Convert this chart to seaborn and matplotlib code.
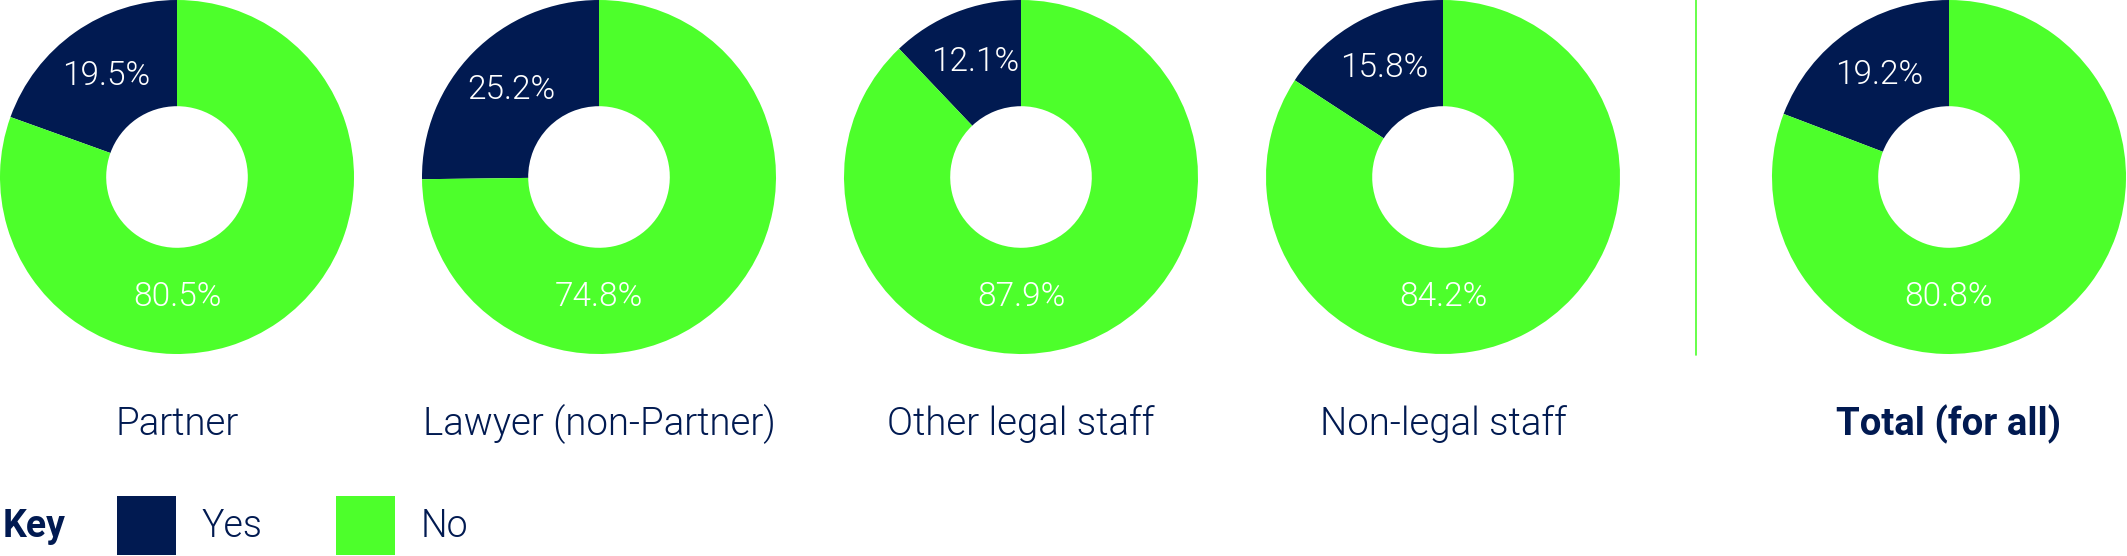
import numpy as np
import pandas as pd
import seaborn as sns
import matplotlib.pyplot as plt

# share of staff answering yes / no, per role
groups = ["Partner", "Lawyer (non-Partner)", "Other legal staff", "Non-legal staff", "Total (for all)"]
yes_pct = [19.5, 25.2, 12.1, 15.8, 19.2]
no_pct = [80.5, 74.8, 87.9, 84.2, 80.8]
answers = ["Yes", "No"]

NAVY = "#011a51"
GREEN = "#4dff2b"
LIGHT = 300  # Roboto Light

sns.set_theme(style="white")
plt.rcParams['font.family'] = ['Roboto', 'DejaVu Sans']

W, H = 2127, 556
fig = plt.figure(figsize=(W / 100, H / 100), dpi=100)

df = pd.DataFrame({"group": groups, "Yes": yes_pct, "No": no_pct})

r = 177
centers = [177 + i * 422 for i in range(4)] + [1949]
cy = 177

first_wedges = None
for i, row in df.iterrows():
    cx = centers[i]
    ax = fig.add_axes([(cx - r) / W, 1 - (cy + r) / H, 2 * r / W, 2 * r / H])
    vals = [row["Yes"], row["No"]]
    wedges, texts, autotexts = ax.pie(
        vals, colors=[NAVY, GREEN], startangle=90, counterclock=True,
        radius=1, autopct="%.1f%%", pctdistance=0.70,
        wedgeprops=dict(width=0.6, linewidth=0),
        textprops=dict(color="white", fontsize=24, fontweight=LIGHT))
    # the "No" value always sits at the bottom of the ring
    autotexts[1].set_position((0, -0.68))
    ax.set_xlim(-1, 1)
    ax.set_ylim(-1, 1)
    ax.axis("off")
    bold = row["group"].startswith("Total")
    ax.text(0, -1.46, row["group"], ha="center", va="baseline",
            fontsize=27.6, color=NAVY,
            fontweight="bold" if bold else LIGHT, clip_on=False)
    if first_wedges is None:
        first_wedges = wedges

# divider before the total ring
fig.add_artist(plt.Line2D([1696 / W, 1696 / W], [1, 1 - 355 / H],
                          color=GREEN, linewidth=1.2))

fig.text(3 / W, 1 - 536.7 / H, "Key", fontsize=27, fontweight="bold",
         color=NAVY, va="baseline", ha="left")

leg = fig.legend(first_wedges, answers, loc="lower left",
                 bbox_to_anchor=(117 / W, 1 / H), ncol=2, frameon=False,
                 fontsize=27, handlelength=1.57, handleheight=2.04,
                 handletextpad=0.69, columnspacing=1.95,
                 borderpad=0, borderaxespad=0)
for t in leg.get_texts():
    t.set_color(NAVY)
    t.set_fontweight(LIGHT)

fig.savefig("out.png", dpi=100, facecolor="white")
